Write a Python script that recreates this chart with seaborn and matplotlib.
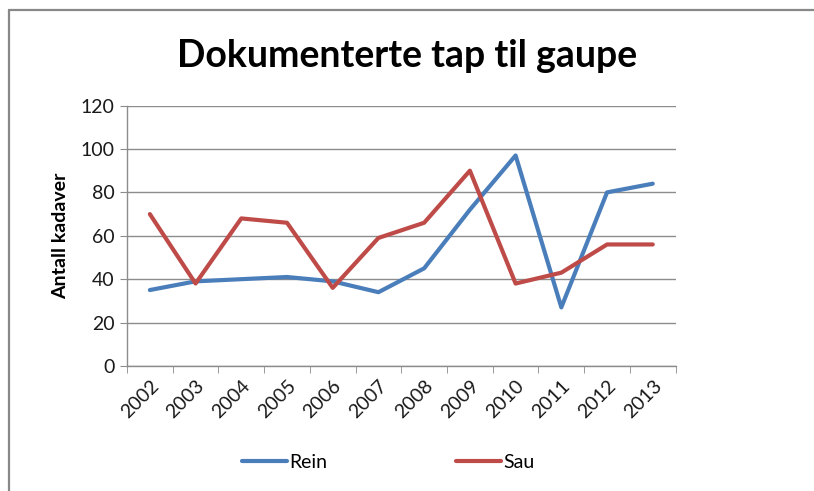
import pandas as pd
import seaborn as sns
import matplotlib.pyplot as plt
from matplotlib.lines import Line2D

years = ['2002', '2003', '2004', '2005', '2006', '2007',
         '2008', '2009', '2010', '2011', '2012', '2013']
rein = [35, 39, 40, 41, 39, 34, 45, 72, 97, 27, 80, 84]
sau = [70, 38, 68, 66, 36, 59, 66, 90, 38, 43, 56, 56]

df = pd.DataFrame({'year': years * 2,
                   'value': rein + sau,
                   'serie': ['Rein'] * len(years) + ['Sau'] * len(years)})

sns.set_style('white')
plt.rcParams['font.family'] = ['Lato', 'DejaVu Sans']
plt.rcParams['text.color'] = 'black'
plt.rcParams['axes.labelcolor'] = 'black'
plt.rcParams['xtick.color'] = 'black'
plt.rcParams['ytick.color'] = 'black'

fig = plt.figure(figsize=(8.14, 4.91), dpi=100)
ax = fig.add_axes([0.156, 0.2546, 0.674, 0.5304])

sns.lineplot(data=df, x='year', y='value', hue='serie',
             palette={'Rein': '#4A7EBB', 'Sau': '#BE4B48'},
             linewidth=3, ax=ax, legend=False, sort=False)

ax.set_xlim(-0.5, len(years) - 0.5)
ax.set_ylim(0, 120)
ax.set_yticks(range(0, 121, 20))
ax.yaxis.grid(True, color='#8c8c8c', linewidth=1)
ax.set_axisbelow(True)

for s in ['top', 'right']:
    ax.spines[s].set_visible(False)
for s in ['left', 'bottom']:
    ax.spines[s].set_color('#8c8c8c')
    ax.spines[s].set_linewidth(1)

ax.set_xticks(range(len(years)))
ax.set_xticks([i - 0.5 for i in range(len(years) + 1)], minor=True)
ax.set_xticklabels(years, rotation=45, ha='right', rotation_mode='anchor')
ax.tick_params(axis='x', which='major', length=0, pad=8, labelsize=14, labelcolor='#1a1a1a')
ax.tick_params(axis='x', which='minor', length=5, color='#8c8c8c', direction='out', bottom=True)
ax.tick_params(axis='y', length=5, color='#8c8c8c', direction='out', left=True,
               labelsize=14, labelcolor='#1a1a1a', pad=4)

ax.set_xlabel('')
ax.set_ylabel('Antall kadaver', fontsize=14, fontweight='bold', labelpad=8)

fig.text(0.5, 0.885, 'Dokumenterte tap til gaupe', ha='center', va='center',
         fontsize=27, fontweight='bold')

handles = [Line2D([], [], color='#4A7EBB', linewidth=3),
           Line2D([], [], color='#BE4B48', linewidth=3)]
fig.legend(handles, ['Rein', 'Sau'], loc='center', bbox_to_anchor=(0.477, 0.059),
           ncol=2, frameon=False, fontsize=14, handlelength=2.3,
           handletextpad=0.15, columnspacing=6.6)

# outer chart frame (only left and top edges visible in the crop)
fig.add_artist(Line2D([0.011, 0.011], [0, 0.98], transform=fig.transFigure,
                      color='#888888', linewidth=1.6))
fig.add_artist(Line2D([0.011, 1], [0.98, 0.98], transform=fig.transFigure,
                      color='#888888', linewidth=1.6))

fig.savefig('out.png', dpi=100)
